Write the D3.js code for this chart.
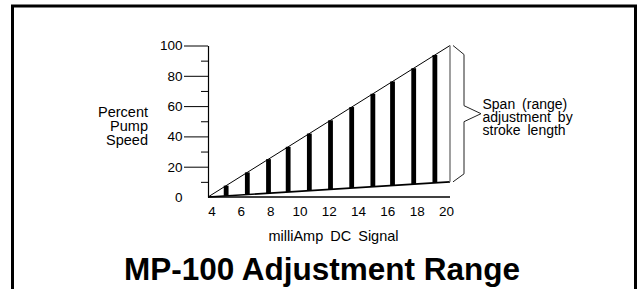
<!DOCTYPE html>
<html lang="en">
<head>
  <meta charset="UTF-8">
  <script src="https://d3js.org/d3.v7.min.js"></script>
  <title>MP-100 Adjustment Range</title>
  <style>
    body { margin: 0; background: #fff; }
    svg text { font-family: "Liberation Sans", Arial, Helvetica, sans-serif; fill: #000; }
  </style>
</head>
<body>
<div id="chart"></div>
<script>

// values
var signalRange = [4, 20];          // milliAmp
var speedRange = [0, 100];          // percent
var fullStroke = [0, 100];          // percent speed at full stroke length
var minStroke = [0, 10];            // percent speed at minimum stroke length
var barSignals = [5.2, 6.6, 8.0, 9.3, 10.7, 12.1, 13.5, 14.9, 16.2, 17.6, 19.0];
var xTicks = [4, 6, 8, 10, 12, 14, 16, 18, 20];
var yTicks = [0, 20, 40, 60, 80, 100];
var yMinor = [10, 30, 50, 70, 90];
var yLabel = ["Percent", "Pump", "Speed"];
var spanLabel = ["Span (range)", "adjustment by", "stroke length"];

var W = 639, H = 289;

var svg = d3.select("#chart")
  .append("svg")
    .attr("width", W)
    .attr("height", H);

// frame (bottom edge runs off the picture)
svg.append("path")
  .attr("d", "M12.5,300V6H635.5V300")
  .attr("fill", "none")
  .attr("stroke", "#000")
  .attr("stroke-width", 3);

var x = d3.scaleLinear().domain(signalRange).range([208, 450]);
var xl = d3.scaleLinear().domain(signalRange).range([211.5, 446]);   // tick labels sit a bit inside
var y = d3.scaleLinear().domain(speedRange).range([197, 45.5]);

// y axis, major ticks
var yAxis = svg.append("g")
  .attr("transform", "translate(" + x(4) + ",0)")
  .call(d3.axisLeft(y).tickValues(yTicks).tickSize(24).tickSizeOuter(0).tickPadding(1.5));
yAxis.selectAll("text").style("font-size", "13.5px");
yAxis.selectAll(".tick").filter(function(d) { return d === 0; }).select("line").remove();
yAxis.select(".domain").attr("stroke-width", 1.2);

// y axis, minor ticks
svg.append("g")
  .attr("transform", "translate(" + x(4) + ",0)")
  .call(d3.axisLeft(y).tickValues(yMinor).tickSize(7).tickFormat(""))
  .select(".domain").remove();

// x axis line
svg.append("line")
  .attr("x1", x(4)).attr("x2", x(20))
  .attr("y1", y(0)).attr("y2", y(0))
  .attr("stroke", "#000")
  .attr("stroke-width", 1.5);

var xAxis = svg.append("g")
  .attr("transform", "translate(0," + y(0) + ")")
  .call(d3.axisBottom(xl).tickValues(xTicks).tickSize(0).tickPadding(9));
xAxis.select(".domain").remove();
xAxis.selectAll("text").style("font-size", "13.5px");

// the two stroke-length lines
var upper = d3.scaleLinear().domain(signalRange).range(fullStroke);
var lower = d3.scaleLinear().domain(signalRange).range(minStroke);

svg.selectAll("rect.bar")
  .data(barSignals)
  .enter()
  .append("rect")
    .attr("class", "bar")
    .attr("x", function(d) { return x(d) - 2.4; })
    .attr("width", 4.8)
    .attr("y", function(d) { return y(upper(d)); })
    .attr("height", function(d) { return y(lower(d)) - y(upper(d)); })
    .attr("fill", "#000");

svg.append("line")
  .attr("x1", x(4)).attr("y1", y(fullStroke[0]))
  .attr("x2", x(20)).attr("y2", y(fullStroke[1]))
  .attr("stroke", "#000").attr("stroke-width", 1);

svg.append("line")
  .attr("x1", x(4)).attr("y1", y(minStroke[0]))
  .attr("x2", x(20)).attr("y2", y(minStroke[1]))
  .attr("stroke", "#000").attr("stroke-width", 1.6);

svg.append("line")
  .attr("x1", x(20)).attr("y1", y(fullStroke[1]))
  .attr("x2", x(20)).attr("y2", y(minStroke[1]))
  .attr("stroke", "#888").attr("stroke-width", 1.6);

// brace for the span
var braceTop = y(fullStroke[1]), braceBot = y(minStroke[1]);
var braceMid = (braceTop + braceBot) / 2;
var bx = x(20) + 3;
svg.append("path")
  .attr("d", d3.line()([
    [bx, braceTop], [bx + 11, braceTop + 9], [bx + 11, braceMid - 8], [bx + 28, braceMid],
    [bx + 11, braceMid + 8], [bx + 11, braceBot - 8], [bx, braceBot]
  ]))
  .attr("fill", "none")
  .attr("stroke", "#222")
  .attr("stroke-width", 1);

svg.append("text")
  .attr("y", 108.5)
  .style("font-size", "14px")
  .style("word-spacing", "3px")
  .selectAll("tspan")
  .data(spanLabel)
  .enter().append("tspan")
    .attr("x", 482.5)
    .attr("dy", function(d, i) { return i ? 13.3 : 0; })
    .text(function(d) { return d; });

// axis titles
svg.append("text")
  .attr("text-anchor", "end")
  .attr("y", 117)
  .style("font-size", "14.5px")
  .selectAll("tspan")
  .data(yLabel)
  .enter().append("tspan")
    .attr("x", 148)
    .attr("dy", function(d, i) { return i ? 14 : 0; })
    .text(function(d) { return d; });

svg.append("text")
  .attr("x", 333.5)
  .attr("y", 241)
  .attr("text-anchor", "middle")
  .style("font-size", "14.5px")
  .style("word-spacing", "3px")
  .text("milliAmp DC Signal");

svg.append("text")
  .attr("x", 322)
  .attr("y", 280)
  .attr("text-anchor", "middle")
  .style("font-size", "31.5px")
  .style("font-weight", "bold")
  .text("MP-100 Adjustment Range");

</script>
</body>
</html>
